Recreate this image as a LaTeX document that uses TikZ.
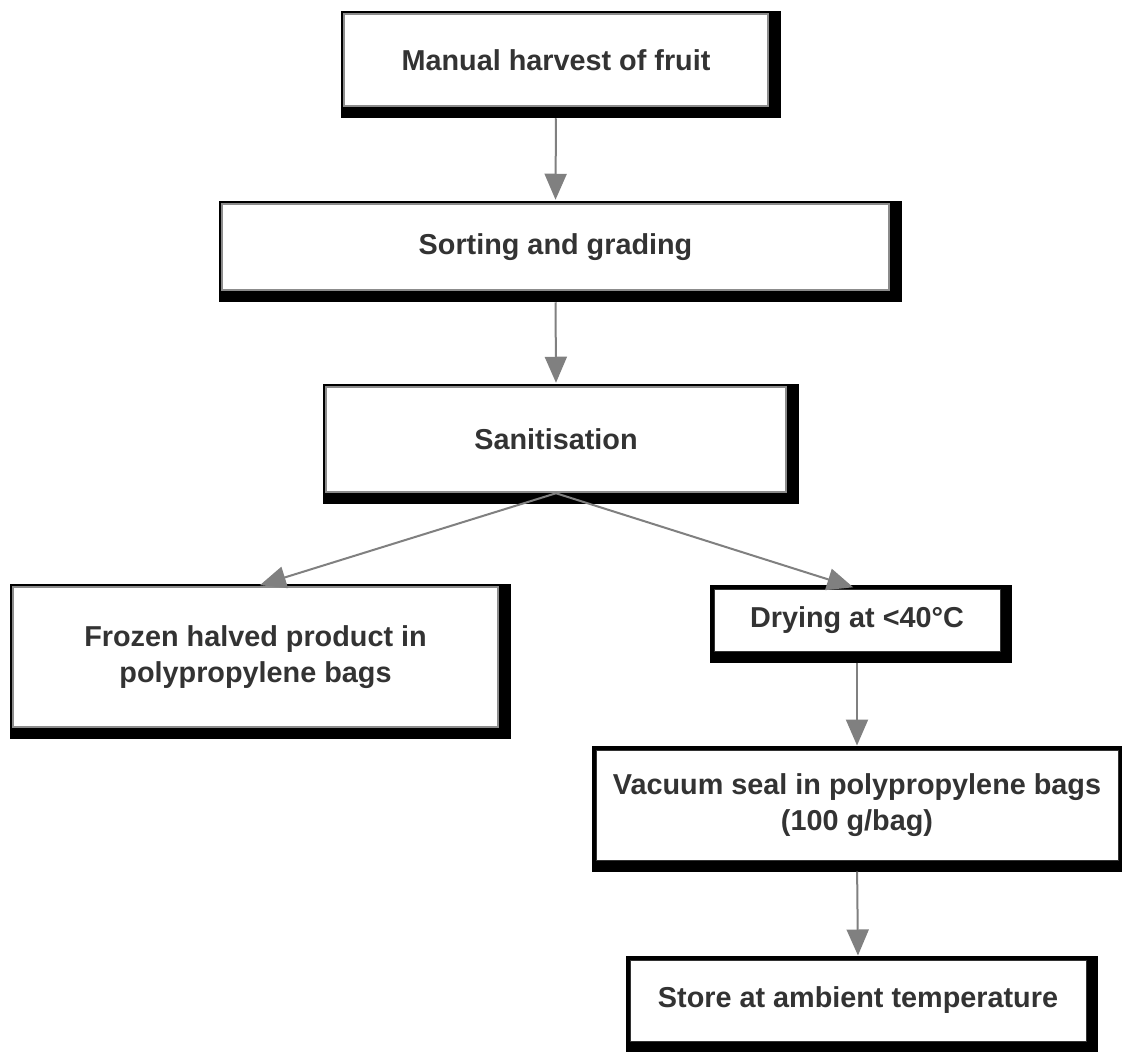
\documentclass[tikz,border=0pt]{standalone}
\usepackage{fontspec}
\setmainfont{Liberation Sans}
\usetikzlibrary{arrows.meta,backgrounds,calc}
\definecolor{txt}{HTML}{333333}
\definecolor{edge}{HTML}{808080}
\definecolor{rim}{HTML}{8C8C8C}
\begin{document}
\begin{tikzpicture}[x=1pt,y=-1pt,
  basebox/.style={fill=white, inner sep=0pt, align=center,
    font=\fontsize{28.8}{36}\selectfont\bfseries, text=txt},
  graybox/.style={basebox, draw=rim, line width=2.5pt},
  blackbox/.style={basebox, draw=black!80, line width=1pt},
  flow/.style={draw=edge, line width=2pt, -{Triangle[width=22pt,length=26pt]}}]
\clip (0,0) rectangle (1122,1052);

\node[graybox, minimum width=424, minimum height=92] (harv) at (556,60) {Manual harvest of fruit};
\node[graybox, minimum width=667, minimum height=86] (sort) at (555.5,247) {Sorting and grading};
\node[graybox, minimum width=460, minimum height=105] (sani) at (556,439.5) {Sanitisation};
\node[graybox, minimum width=485, minimum height=140] (froz) at (255.5,657) {Frozen halved product in\\polypropylene bags};
\node[blackbox, minimum width=286, minimum height=62] (dry) at (857,620) {Drying at <40°C};
\node[blackbox, minimum width=522, minimum height=110] (vac) at (857,805) {Vacuum seal in polypropylene bags\\(100 g/bag)};
\node[blackbox, minimum width=456, minimum height=81] (store) at (858,1000.5) {Store at ambient temperature};

\begin{scope}[on background layer]
  \fill[white] (0,0) rectangle (1122,1052);
  \foreach \n in {harv,sort,sani,froz}{
    \fill[black] ($(\n.north west)+(-2,-2)$) rectangle ($(\n.south east)+(12,11)$);
  }
  \foreach \n in {dry,vac,store}{
    \fill[black] ($(\n.north west)+(-3.5,-3.5)$) rectangle ($(\n.south east)+(11,11)$);
  }
\end{scope}

\draw[flow, shorten <=11pt, shorten >=3pt] (harv.south) -- (sort.north);
\draw[flow, shorten <=11pt, shorten >=3pt] (sort.south) -- (sani.north);
\draw[flow, shorten >=2pt] (sani.south) -- ($(froz.north)+(2.5,0)$);
\draw[flow, shorten >=4pt] (sani.south) -- (dry.north);
\draw[flow, shorten <=11pt, shorten >=4pt] (dry.south) -- (vac.north);
\draw[flow, shorten <=11pt, shorten >=4pt] (vac.south) -- (store.north);
\end{tikzpicture}
\end{document}
